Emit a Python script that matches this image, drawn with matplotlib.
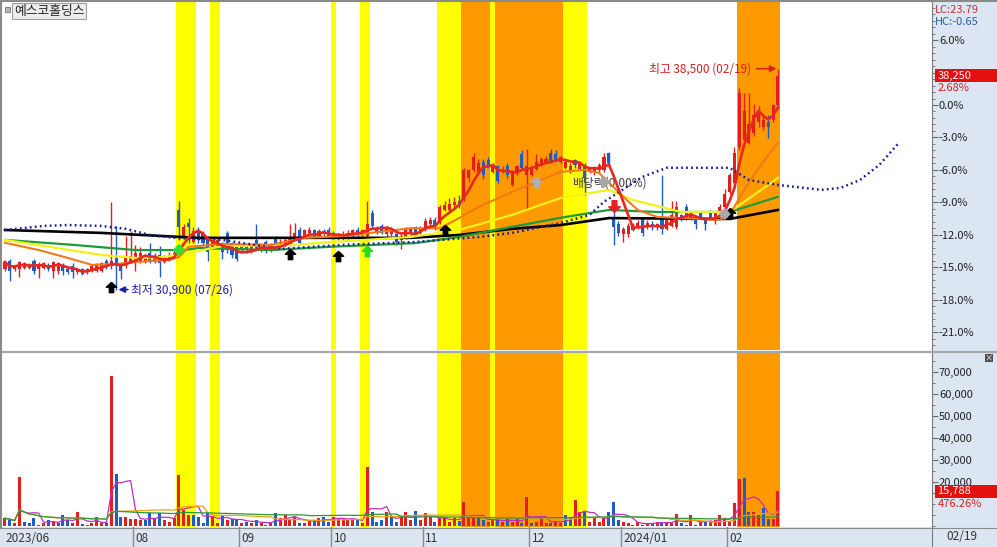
import numpy as np
import pandas as pd
import matplotlib
matplotlib.use('Agg')
import matplotlib.pyplot as plt
from matplotlib.patches import Rectangle
from matplotlib.path import Path
from matplotlib.lines import Line2D

plt.rcParams['font.family'] = ['Noto Sans CJK KR', 'DejaVu Sans']

# ---------------- data (daily, 2023-06-23 .. 2024-02-19) ----------------
opens = [31600, 31900, 31600, 31600, 31650, 31650, 31900, 31600, 31650, 31750,
         31550, 31550, 31700, 31600, 31700, 31500, 31600, 31500, 31550, 31550,
         31550, 31900, 31700, 32000, 31750, 31750, 31850, 31850, 31850, 31850,
         32150, 31850, 32100, 31850, 31950, 32050, 33650, 32750, 33200, 32550,
         32950, 32800, 32700, 32350, 32400, 32450, 32850, 32500, 32350, 32250,
         32350, 32250, 32600, 32250, 32550, 32250, 32700, 32350, 32450, 32450,
         32700, 32950, 32750, 32850, 32950, 32750, 32900, 32950, 32850, 32650,
         32650, 32750, 32750, 32950, 32800, 32750, 33550, 32850, 33100, 32800,
         32800, 32800, 32600, 32700, 32800, 33050, 32850, 33000, 33150, 33300,
         33200, 33650, 33650, 33800, 33950, 34050, 34750, 35000, 34900, 35300,
         35350, 34950, 35150, 34950, 35150, 34500, 34900, 35550, 34850, 34850,
         35050, 35200, 35300, 35600, 35550, 35300, 35100, 35000, 35350, 35050,
         35200, 34950, 34950, 35000, 35000, 35600, 33400, 33150, 32800, 32800,
         32950, 33050, 33350, 33050, 33150, 33050, 33350, 33000, 33100, 33050,
         33450, 33750, 33400, 33300, 33550, 33300, 33550, 33400, 33550, 33750,
         34250, 34550, 35800, 36050, 35950, 36300, 36650, 36500, 36650, 36750,
         37250]
highs = [31900, 31950, 31750, 31900, 31850, 31800, 31950, 31850, 31850, 31800,
         31900, 31850, 31800, 31650, 31800, 31650, 31650, 31650, 31750, 31800,
         31850, 31950, 33900, 33100, 31800, 32750, 32900, 32450, 32350, 32050,
         32500, 32150, 32400, 32100, 32200, 32250, 33950, 33150, 33350, 33050,
         33050, 32900, 32750, 32650, 32700, 32550, 32900, 32550, 32400, 32450,
         32400, 32450, 33150, 32500, 32600, 32500, 32750, 32650, 32700, 33150,
         33200, 33050, 33000, 33050, 33000, 33000, 33000, 33050, 32900, 32850,
         32900, 32950, 33000, 33050, 33000, 33950, 33650, 33100, 33150, 33100,
         33050, 32850, 32850, 33050, 33050, 33100, 33100, 33350, 33400, 33400,
         33800, 33950, 34050, 34100, 34150, 35100, 35050, 35600, 35400, 35400,
         35450, 35250, 35200, 35150, 35250, 35000, 35200, 35700, 35750, 35150,
         35550, 35450, 35500, 35750, 35700, 35500, 35400, 35250, 35400, 35300,
         35250, 35100, 35150, 35250, 35600, 35650, 33750, 33250, 33050, 33200,
         33200, 33300, 33400, 33300, 33250, 33200, 34850, 33350, 33950, 33950,
         33500, 33850, 33600, 33400, 33600, 33350, 33650, 33600, 33850, 34350,
         34900, 35800, 37850, 37650, 37650, 37300, 37200, 36850, 36900, 37300,
         38500]
lows = [31550, 31200, 31550, 31350, 31600, 31600, 31450, 31300, 31600, 31550,
        31300, 31450, 31400, 31450, 31300, 31450, 31400, 31450, 31500, 31500,
        31500, 31600, 31600, 30900, 31250, 31650, 31800, 31550, 31800, 31800,
        31800, 31800, 31350, 31800, 31900, 32000, 32600, 32650, 32500, 32500,
        32500, 32400, 31900, 32300, 32350, 31950, 32150, 32000, 31900, 32200,
        32150, 32150, 32250, 32200, 32150, 32200, 32250, 32300, 32400, 32400,
        32650, 32450, 32700, 32800, 32700, 32700, 32700, 32700, 32650, 32600,
        32600, 32650, 32700, 32700, 32750, 32700, 33000, 32800, 32800, 32700,
        32750, 32450, 32300, 32650, 32700, 32700, 32800, 32900, 33050, 32950,
        33150, 33600, 33600, 33700, 33700, 33950, 34600, 34950, 34850, 34700,
        35100, 34900, 34550, 34900, 34750, 34450, 34850, 35000, 33650, 34800,
        35000, 35150, 35250, 35250, 35300, 35250, 35050, 34900, 35100, 35000,
        34150, 34900, 34850, 34900, 34950, 35100, 32450, 32750, 32550, 32700,
        32900, 33000, 32750, 33000, 32950, 32950, 32800, 32950, 33050, 33000,
        33250, 33300, 33300, 33000, 33350, 32950, 33350, 33150, 33450, 33700,
        34200, 34500, 35700, 35800, 35900, 36200, 36500, 36400, 36100, 36650,
        37100]
closes = [31850, 31550, 31700, 31850, 31800, 31750, 31550, 31750, 31800, 31600,
          31850, 31800, 31550, 31500, 31500, 31600, 31450, 31600, 31700, 31750,
          31800, 31700, 31900, 31700, 31550, 32000, 32050, 32150, 32150, 32000,
          31850, 32000, 31800, 32000, 32100, 32150, 33050, 33050, 33050, 32900,
          32600, 32500, 32200, 32550, 32600, 32200, 32250, 32100, 31950, 32400,
          32250, 32400, 32300, 32400, 32250, 32450, 32300, 32550, 32600, 32700,
          32850, 32500, 32950, 32950, 32750, 32900, 32800, 32750, 32750, 32750,
          32800, 32850, 32950, 32800, 32950, 33150, 33100, 33000, 32850, 33050,
          32950, 32550, 32750, 32950, 33000, 32800, 33000, 33250, 33300, 33050,
          33750, 33800, 33850, 33900, 33800, 35000, 35000, 35450, 35250, 34850,
          35150, 35200, 34650, 35050, 34850, 34950, 35150, 35100, 35150, 35050,
          35300, 35400, 35400, 35300, 35350, 35450, 35300, 35150, 35200, 35250,
          34750, 35050, 35100, 35200, 35450, 35250, 33050, 32850, 33000, 33100,
          33100, 33200, 32850, 33200, 33050, 33150, 33000, 33300, 33450, 33750,
          33300, 33350, 33550, 33150, 33400, 33150, 33400, 33550, 33750, 34200,
          34850, 35600, 37650, 37050, 36600, 36900, 37050, 36750, 36500, 37250,
          38250]
volumes = [3500, 2700, 1200, 22300, 2000, 1200, 3500, 450, 1500, 2700,
           2000, 1500, 5000, 2700, 1200, 6200, 1000, 450, 1200, 4200,
           1200, 1200, 68200, 23600, 4200, 4200, 3000, 3000, 2700, 2700,
           5800, 3000, 5800, 2700, 2000, 3500, 23200, 7300, 5000, 5000,
           4200, 1500, 6500, 4200, 1200, 5000, 2700, 3000, 3000, 1200,
           2000, 1500, 2700, 1200, 450, 1500, 6000, 3500, 5000, 2700,
           4200, 1200, 1500, 2400, 2400, 3500, 4200, 2000, 4200, 3500,
           3500, 2700, 2700, 2700, 1200, 26800, 6400, 2000, 2700, 6400,
           4200, 2000, 4200, 6400, 2700, 7000, 2700, 5800, 4200, 2000,
           3500, 3500, 2000, 3500, 2400, 11000, 3500, 3500, 3500, 2700,
           2000, 3000, 2700, 2000, 3000, 2000, 3000, 1500, 13100, 1200,
           2000, 3500, 1200, 1500, 2000, 1200, 5000, 4200, 11800, 6500,
           6500, 2000, 3500, 2000, 4200, 6500, 11000, 2700, 2000, 1200,
           450, 2000, 450, 1200, 1500, 2000, 2000, 1200, 1200, 5400,
           1200, 450, 5000, 450, 2000, 2000, 2000, 2700, 5000, 3500,
           2400, 10500, 21400, 21800, 6400, 6200, 5000, 8200, 3300, 3315,
           15788]

# longer moving averages at sample days
ma20_idx = [0, 7, 13, 18, 23, 27, 34, 36, 38, 45, 55, 62, 70, 84, 90, 94, 98,
            105, 112, 115, 120, 123, 128, 131, 135, 148, 150, 153, 156, 160]
ma20_val = [32510, 32260, 31990, 31750, 31780, 31850, 31920, 32020, 32370, 32470,
            32440, 32680, 32740, 33010, 33010, 33360, 33740, 34260, 34740, 34950,
            35020, 34910, 34090, 33640, 33400, 33300, 33470, 34330, 35080, 35950]
ma60_idx = [0, 20, 27, 33, 38, 45, 60, 68, 84, 94, 105, 115, 125, 130, 140, 150, 155, 160]
ma60_val = [32610, 32090, 31990, 32020, 32160, 32400, 32440, 32540, 32710, 32950,
            33470, 34050, 34330, 33980, 33570, 33570, 34150, 34740]
ma120_idx = [0, 14, 27, 37, 40, 55, 67, 85, 94, 105, 115, 125, 135, 150, 160]
ma120_val = [32610, 32440, 32260, 32260, 32330, 32260, 32370, 32500, 32710, 33060,
             33370, 33640, 33570, 33570, 34090]
ma240_idx = [0, 20, 40, 61, 84, 94, 105, 115, 125, 150, 160]
ma240_val = [32950, 32850, 32680, 32680, 32680, 32780, 32990, 33120, 33360, 33330, 33640]
span_idx = [0, 8, 13, 20, 25, 30, 35, 45, 57, 70, 85, 98, 105, 115, 121, 124, 132,
            137, 144, 150, 154, 160, 169, 173, 177, 181, 185]
span_val = [32950, 33090, 33120, 33090, 32990, 32780, 32680, 32610, 32300, 32440,
            32540, 32710, 32850, 33190, 33470, 33920, 34780, 35090, 35090, 35090,
            34670, 34500, 34330, 34400, 34670, 35190, 35940]

# highlighted signal periods (day index ranges)
band_start = [36, 43, 68, 74, 90, 95, 101, 102, 116, 152]
band_end = [39, 44, 68, 75, 94, 100, 101, 115, 120, 160]
band_kind = ['Y', 'Y', 'Y', 'Y', 'Y', 'O', 'Y', 'O', 'Y', 'O']

# signal markers
sig_black_idx = [22, 59, 69, 91, 150]
sig_black_px = [31000, 32130, 32060, 32950, 33550]
sig_green_idx = [75]
sig_green_px = [32230]
sig_gray_idx = [110]
sig_gray_px = [34600]
sig_diamond_idx = [36, 124, 149]
sig_diamond_px = [32260, 34600, 33500]
sig_diamond_col = ['#33dd33', '#a8a8a8', '#a8a8a8']
sig_down_idx = [126]
sig_down_px = [33780]

month_idx = [0, 27, 49, 68, 87, 109, 128, 150]
month_labels = ['2023/06', '08', '09', '10', '11', '12', '2024/01', '02']

prev_close = 37250
pct_ticks = [-21, -18, -15, -12, -9, -6, -3, 0, 3, 6]
vol_ticks = [20000, 30000, 40000, 50000, 60000, 70000]

# ---------------- figure ----------------
W, H = 997, 547
fig = plt.figure(figsize=(W / 100, H / 100), dpi=100)
panel_bg = '#dce6f2'
fig.patches.append(Rectangle((932 / W, 0), 65 / W, 1, transform=fig.transFigure,
                             fc=panel_bg, ec='none', zorder=-10))
fig.patches.append(Rectangle((0, 0), 1, 20 / H, transform=fig.transFigure,
                             fc=panel_bg, ec='none', zorder=-10))

ax = fig.add_axes([3 / W, 1 - 350 / H, 929 / W, 348 / H])
axv = fig.add_axes([3 / W, 20 / H, 929 / W, 174 / H], sharex=ax)
axd = fig.add_axes([3 / W, 0, 929 / W, 20 / H], sharex=ax)
axd.set_facecolor('none')

x = np.arange(len(closes))
o = np.array(opens, float)
h = np.array(highs, float)
l = np.array(lows, float)
c = np.array(closes, float)
v = np.array(volumes, float)

RED = '#e41e1e'
BLUE = '#1f5cc6'
YEL = '#ffff00'
ORG = '#ff9900'

for a in (ax, axv):
    for s, e, k in zip(band_start, band_end, band_kind):
        a.axvspan(s - 0.5, e + 0.5, color=YEL if k == 'Y' else ORG, lw=0, zorder=0)

# candles
up = c >= o
ccol = np.where(up, RED, BLUE)
ax.vlines(x, l, h, colors=ccol, lw=1, zorder=3)
ax.bar(x, np.maximum(np.abs(c - o), 35), bottom=np.minimum(o, c), width=0.64,
       color=ccol, lw=0, zorder=3)

# moving averages
ma5 = pd.Series(c).rolling(5, min_periods=1).mean()
ax.plot(ma240_idx, ma240_val, color='black', lw=1.9, zorder=4)
ax.plot(ma120_idx, ma120_val, color='#1f9a3a', lw=1.6, zorder=4)
ax.plot(ma60_idx, ma60_val, color='#f2f21a', lw=1.6, zorder=4)
ax.plot(ma20_idx, ma20_val, color='#f07a1a', lw=1.5, zorder=4)
ax.plot(span_idx, span_val, color='#1c1c96', lw=1.8, ls=(0, (0.7, 1.3)),
        dash_capstyle='butt', zorder=4)
ax.plot(x, ma5, color='#e8281e', lw=1.9, zorder=5)

# signal markers
up_arrow = Path([(0, 1), (-1, 0.05), (-0.42, 0.05), (-0.42, -1), (0.42, -1),
                 (0.42, 0.05), (1, 0.05), (0, 1)])
down_arrow = Path([(px_, -py_) for px_, py_ in up_arrow.vertices])
ax.scatter(sig_black_idx, sig_black_px, marker=up_arrow, s=55, color='black', zorder=6)
ax.scatter(sig_green_idx, sig_green_px, marker=up_arrow, s=55, color='#22dd22', zorder=6)
ax.scatter(sig_gray_idx, sig_gray_px, marker=up_arrow, s=55, color='#b0b0b0', zorder=6)
ax.scatter(sig_down_idx, sig_down_px, marker=down_arrow, s=70, color='#e82020', zorder=6)
ax.scatter(sig_diamond_idx, sig_diamond_px, marker='D', s=28, color=sig_diamond_col,
           zorder=6)

# annotations
i_lo = int(np.argmin(l))
i_hi = int(np.argmax(h))
ax.annotate('최저 30,900 (07/26)', xy=(i_lo + 0.5, l[i_lo]), xytext=(i_lo + 3.0, l[i_lo]),
            color='#1c1caa', fontsize=8.5, va='center', ha='left', zorder=7,
            arrowprops=dict(arrowstyle='-|>', color='#1c1caa', lw=1.2,
                            shrinkA=0, shrinkB=0, mutation_scale=9))
ax.annotate('최고 38,500 (02/19)', xy=(i_hi - 0.3, h[i_hi]), xytext=(i_hi - 5.6, h[i_hi]),
            color='#d42020', fontsize=8.5, va='center', ha='right', zorder=7,
            arrowprops=dict(arrowstyle='-|>', color='#d42020', lw=1.2,
                            shrinkA=2, shrinkB=0, mutation_scale=9))
ax.text(117.3, 34560, '배당락(0.00%)', fontsize=8.5, color='#3c3c3c',
        va='center', ha='left', zorder=2)

# price axis (ticks first, limits afterwards so they are not widened)
ax.set_yticks([prev_close * (1 + p / 100) for p in pct_ticks])
ax.set_yticklabels(['' if p == 3 else '%.1f%%' % p for p in pct_ticks])
minor = [prev_close * (1 + p / 100) for p in np.arange(-24, 10.01, 0.6)]
ax.set_yticks(minor, minor=True)
ax.set_xlim(-0.41, 191.9)
ax.set_ylim(prev_close - 245 * 34.4, prev_close + 103 * 34.4)
for a in (ax, axv):
    a.yaxis.tick_right()
    a.tick_params(axis='y', which='major', direction='out', length=4, width=0.8,
                  pad=1, labelsize=8, colors='#6a6a6a', labelcolor='#222222')
    a.tick_params(axis='y', which='minor', direction='out', length=2, width=0.6,
                  colors='#6a6a6a')
    a.tick_params(axis='x', bottom=False, labelbottom=False)
    for sp in ('left', 'top', 'bottom'):
        a.spines[sp].set_visible(False)
    a.spines['right'].set_color('#7a7a7a')

# current price box
yx = ax.get_yaxis_transform()
box_h = 13 * 34.4
ax.add_patch(Rectangle((1.003, c[-1] - box_h / 2), 0.08, box_h, transform=yx,
                       fc='#e41010', ec='none', clip_on=False, zorder=8))
ax.text(1.006, c[-1], '{:,.0f}'.format(c[-1]), transform=yx, color='white',
        fontsize=8, va='center', ha='left', zorder=9, clip_on=False)
pct_last = (c[-1] / prev_close - 1) * 100
ax.text(1.006, c[-1] - 12.5 * 34.4, '%.2f%%' % pct_last, transform=yx,
        color='#d42020', fontsize=8, va='center', ha='left', zorder=9, clip_on=False)

# volume panel
vup = np.r_[up[0], c[1:] >= c[:-1]]
axv.bar(x, v, width=0.62, color=np.where(vup, RED, BLUE), lw=0, zorder=3)
vs = pd.Series(v)
axv.plot(x, vs.rolling(5, min_periods=1).mean(), color='#c02ec0', lw=0.9, zorder=4)
axv.plot(x, vs.rolling(20, min_periods=1).mean(), color='#f0a010', lw=0.9, zorder=4)
axv.plot(x, vs.rolling(60, min_periods=1).mean(), color='#2a9a3a', lw=0.9, zorder=4)
axv.set_yticks(vol_ticks)
axv.set_yticklabels(['{:,}'.format(t) for t in vol_ticks])
axv.set_yticks(np.arange(0, 78001, 5000), minor=True)
axv.set_ylim(-450, 78650)
vx = axv.get_yaxis_transform()
vb_h = 13 / 174 * 79100
axv.add_patch(Rectangle((1.003, v[-1] - vb_h / 2), 0.08, vb_h, transform=vx,
                        fc='#e41010', ec='none', clip_on=False, zorder=8))
axv.text(1.006, v[-1], '{:,.0f}'.format(v[-1]), transform=vx, color='white',
         fontsize=8, va='center', ha='left', zorder=9, clip_on=False)
axv.text(1.006, v[-1] - vb_h * 1.0, '%.2f%%' % (v[-1] / v[-2] * 100), transform=vx,
         color='#d42020', fontsize=8, va='center', ha='left', zorder=9, clip_on=False)

# date bar
axd.set_ylim(0, 1)
axd.set_yticks([])
axd.tick_params(axis='x', bottom=False, labelbottom=False)
for sp in ('left', 'top', 'bottom'):
    axd.spines[sp].set_visible(False)
axd.spines['right'].set_color('#7a7a7a')
for k, (mi, lab) in enumerate(zip(month_idx, month_labels)):
    pos = mi - 0.5 if k > 0 else -0.41
    if k > 0:
        axd.axvline(pos, color='#8a8a8a', lw=1)
    axd.text(pos + 0.5, 0.45, lab, fontsize=8.5, color='#333333', va='center', ha='left')
fig.text(946 / W, 1 - 537 / H, '02/19', fontsize=8.5, color='#333333', va='center')

# frame lines and header
fig.add_artist(Line2D([0, 1], [1 - 351.5 / H] * 2, color='#a8a8a8', lw=1.6))
fig.add_artist(Line2D([0, 1], [1 - 527.5 / H] * 2, color='#8a8a8a', lw=0.8))
fig.add_artist(Line2D([0, 1], [1 - 0.5 / H] * 2, color='#8a8a8a', lw=1.5))
fig.add_artist(Line2D([1 / W, 1 / W], [20 / H, 1], color='#8a8a8a', lw=1.5))
fig.patches.append(Rectangle((5 / W, 1 - 12 / H), 5 / W, 5 / H, transform=fig.transFigure,
                             fc='#b8b8b8', ec='#707070', lw=0.6))
fig.text(14 / W, 1 - 11 / H, '예스코홀딩스', fontsize=9.2, color='#222222', va='center',
         ha='left', bbox=dict(boxstyle='square,pad=0.12', fc='#ececec', ec='#a0a0a0', lw=0.8))
fig.text(935 / W, 1 - 10 / H, 'LC:23.79', fontsize=8, color='#c8323c', va='center')
fig.text(935 / W, 1 - 22 / H, 'HC:-0.65', fontsize=8, color='#2a5caa', va='center')
fig.patches.append(Rectangle((985 / W, 1 - 362 / H), 8 / W, 8 / H, transform=fig.transFigure,
                             fc='#505050', ec='none'))
fig.text(989 / W, 1 - 358 / H, '×', fontsize=6, color='white', va='center', ha='center')

fig.savefig('out.png', dpi=100)
